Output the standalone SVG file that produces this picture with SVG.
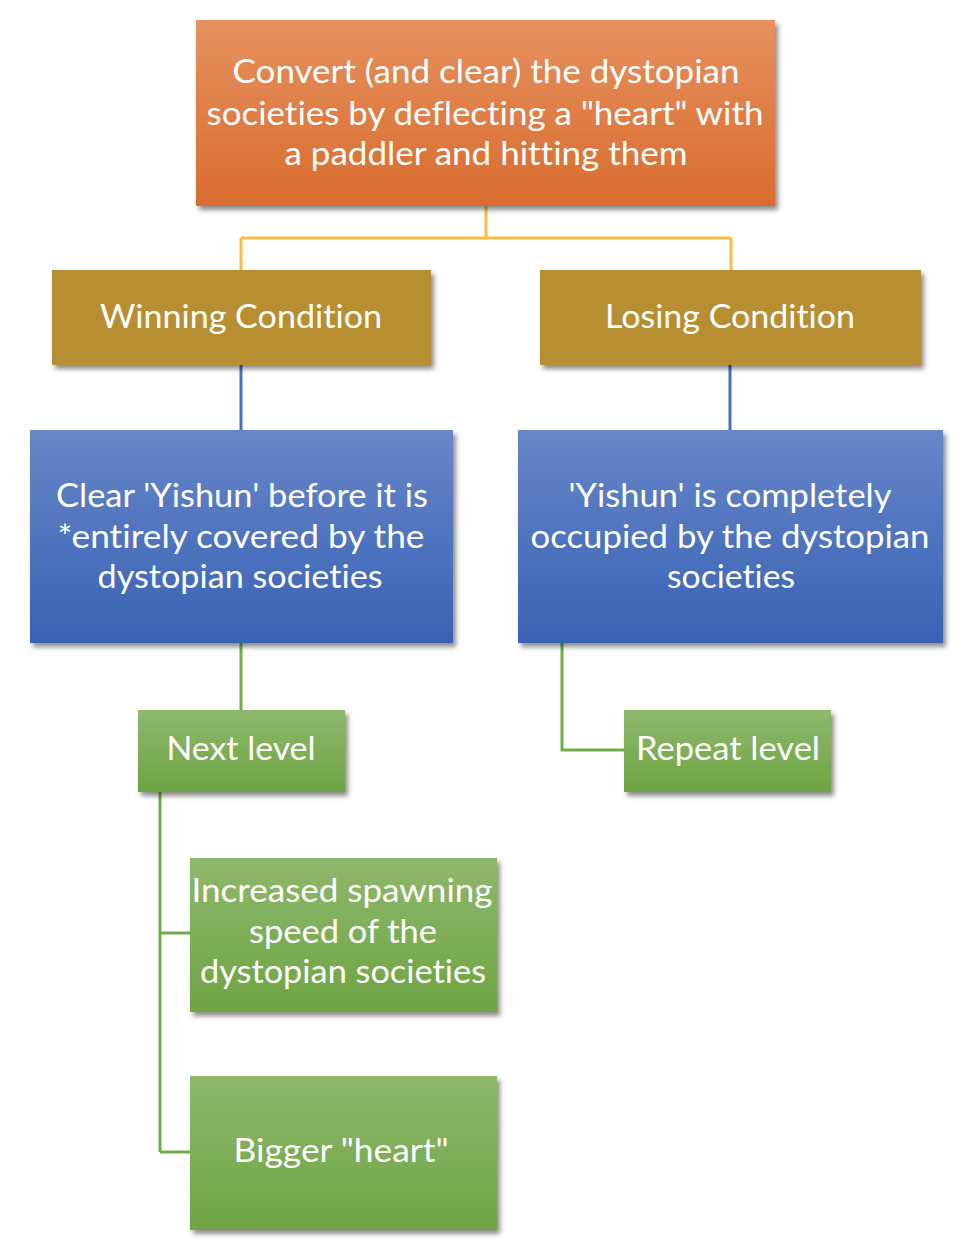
<svg xmlns="http://www.w3.org/2000/svg" width="960" height="1248" viewBox="0 0 960 1248">
<defs>
<linearGradient id="gOrange" x1="0" y1="0" x2="0" y2="1"><stop offset="0" stop-color="#e6915f"/><stop offset="1" stop-color="#d86c2e"/></linearGradient>
<linearGradient id="gBlue" x1="0" y1="0" x2="0" y2="1"><stop offset="0" stop-color="#6786c8"/><stop offset="1" stop-color="#3962b4"/></linearGradient>
<linearGradient id="gGreen" x1="0" y1="0" x2="0" y2="1"><stop offset="0" stop-color="#8fb86c"/><stop offset="1" stop-color="#6ea443"/></linearGradient>
<filter id="sh" x="-10%" y="-10%" width="125%" height="130%"><feDropShadow dx="3" dy="4" stdDeviation="2.5" flood-color="#000" flood-opacity="0.45"/></filter>
</defs>
<style>
text{font-family:"Lato","Open Sans","Liberation Sans",sans-serif;font-size:32px;fill:#fff;text-anchor:middle;font-variant-ligatures:none;font-feature-settings:"liga" 0,"clig" 0}
.c{fill:none;stroke-width:3}
.y{stroke:#f7be43}.b{stroke:#4472c4}.g{stroke:#70ad47}
</style>
<rect width="960" height="1248" fill="#fff"/>
<g id="connectors">
<path class="c y" d="M486 206V238M241 238H731M241 238V270M731 238V270"/>
<path class="c b" d="M241 365V430M730 365V430"/>
<path class="c g" d="M241 643V710M562 643V750H624M160 792V1152M160 933H190M160 1152H190"/>
</g>
<g id="n-top"><rect x="196" y="20" width="579" height="186" fill="url(#gOrange)" filter="url(#sh)"/>
<text x="486" y="83" textLength="507" lengthAdjust="spacingAndGlyphs">Convert (and clear) the dystopian</text>
<text x="485" y="125" textLength="557" lengthAdjust="spacingAndGlyphs">societies by deflecting a "heart" with</text>
<text x="486" y="165" textLength="403" lengthAdjust="spacingAndGlyphs">a paddler and hitting them</text></g>
<g id="n-win"><rect x="52" y="270" width="379" height="95" fill="#b78f32" filter="url(#sh)"/>
<text x="241" y="328" textLength="282" lengthAdjust="spacingAndGlyphs">Winning Condition</text></g>
<g id="n-lose"><rect x="540" y="270" width="381" height="95" fill="#b78f32" filter="url(#sh)"/>
<text x="730" y="328" textLength="250" lengthAdjust="spacingAndGlyphs">Losing Condition</text></g>
<g id="n-clear"><rect x="30" y="430" width="423" height="213" fill="url(#gBlue)" filter="url(#sh)"/>
<text x="242" y="507" textLength="372" lengthAdjust="spacingAndGlyphs">Clear 'Yishun' before it is</text>
<text x="241" y="548" textLength="367" lengthAdjust="spacingAndGlyphs">*entirely covered by the</text>
<text x="240" y="588" textLength="285" lengthAdjust="spacingAndGlyphs">dystopian societies</text></g>
<g id="n-occupied"><rect x="518" y="430" width="425" height="213" fill="url(#gBlue)" filter="url(#sh)"/>
<text x="730" y="507" textLength="323" lengthAdjust="spacingAndGlyphs">'Yishun' is completely</text>
<text x="730" y="548" textLength="399" lengthAdjust="spacingAndGlyphs">occupied by the dystopian</text>
<text x="731" y="588" textLength="128" lengthAdjust="spacingAndGlyphs">societies</text></g>
<g id="n-next"><rect x="138" y="710" width="207" height="82" fill="url(#gGreen)" filter="url(#sh)"/>
<text x="241" y="760" textLength="149" lengthAdjust="spacingAndGlyphs">Next level</text></g>
<g id="n-repeat"><rect x="624" y="710" width="207" height="82" fill="url(#gGreen)" filter="url(#sh)"/>
<text x="728" y="760" textLength="184" lengthAdjust="spacingAndGlyphs">Repeat level</text></g>
<g id="n-spawn"><rect x="190" y="858" width="307" height="154" fill="url(#gGreen)" filter="url(#sh)"/>
<text x="342" y="902" textLength="301" lengthAdjust="spacingAndGlyphs">Increased spawning</text>
<text x="343" y="943" textLength="188" lengthAdjust="spacingAndGlyphs">speed of the</text>
<text x="343" y="983" textLength="286" lengthAdjust="spacingAndGlyphs">dystopian societies</text></g>
<g id="n-heart"><rect x="190" y="1076" width="307" height="154" fill="url(#gGreen)" filter="url(#sh)"/>
<text x="341" y="1162" textLength="215" lengthAdjust="spacingAndGlyphs">Bigger "heart"</text></g>
</svg>
